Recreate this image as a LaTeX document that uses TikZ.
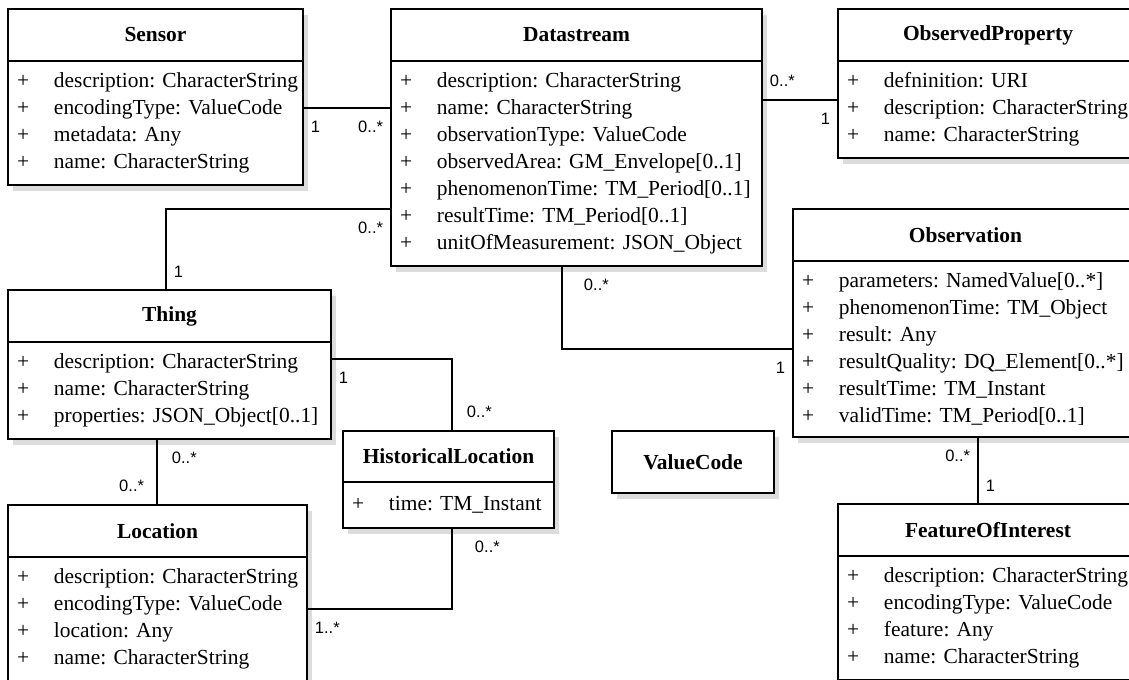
\documentclass[tikz,border=0pt]{standalone}
\usepackage{fontspec}
\setmainfont{Liberation Serif}
\setsansfont{Liberation Sans}
\usetikzlibrary{positioning, backgrounds}
\definecolor{shadowgrey}{HTML}{DCDCDC}

\newcommand{\classfont}{\fontsize{12.2}{15.36}\selectfont\frenchspacing}
\newcommand{\umlattr}[1]{\hspace*{0.18cm}\makebox[0.74cm][l]{+}#1}

\tikzset{
  classname/.style={rectangle, draw, fill=white, line width=1.1pt, outer sep=0pt, anchor=north west, minimum height=1.04cm, font=\classfont\bfseries},
  classattr/.style={rectangle, draw, fill=white, line width=1.1pt, outer sep=0pt, align=left, inner xsep=0pt, inner ysep=6.6pt, font=\classfont},
  assoc/.style={draw, line width=1.1pt},
  mult/.style={font=\sffamily\fontsize{9.4}{11}\selectfont, inner xsep=0.14cm, inner ysep=0.24cm},
  shadowbox/.style={fill=shadowgrey}
}

\begin{document}
\begin{tikzpicture}
\useasboundingbox (0,0) rectangle (22.58,-13.6);

% Sensor
\node[classname, minimum width=5.9cm] (sensor) at (0.16,-0.18) {Sensor};
\node[classattr, text width=5.9cm, below=0pt of sensor] (sensor-attr) {\umlattr{description: CharacterString}\\ \umlattr{encodingType: ValueCode}\\ \umlattr{metadata: Any}\\ \umlattr{name: CharacterString}};

% Datastream
\node[classname, minimum width=7.42cm] (datastream) at (7.82,-0.18) {Datastream};
\node[classattr, text width=7.42cm, below=0pt of datastream] (datastream-attr) {\umlattr{description: CharacterString}\\ \umlattr{name: CharacterString}\\ \umlattr{observationType: ValueCode}\\ \umlattr{observedArea: GM\_Envelope[0..1]}\\ \umlattr{phenomenonTime: TM\_Period[0..1]}\\ \umlattr{resultTime: TM\_Period[0..1]}\\ \umlattr{unitOfMeasurement: JSON\_Object}};

% ObservedProperty
\node[classname, minimum width=6.0cm] (observedproperty) at (16.76,-0.18) {ObservedProperty};
\node[classattr, text width=6.0cm, below=0pt of observedproperty] (observedproperty-attr) {\umlattr{defninition: URI}\\ \umlattr{description: CharacterString}\\ \umlattr{name: CharacterString}};

% Observation
\node[classname, minimum width=6.9cm] (observation) at (15.86,-4.18) {Observation};
\node[classattr, text width=6.9cm, below=0pt of observation] (observation-attr) {\umlattr{parameters: NamedValue[0..*]}\\ \umlattr{phenomenonTime: TM\_Object}\\ \umlattr{result: Any}\\ \umlattr{resultQuality: DQ\_Element[0..*]}\\ \umlattr{resultTime: TM\_Instant}\\ \umlattr{validTime: TM\_Period[0..1]}};

% Thing
\node[classname, minimum width=6.46cm] (thing) at (0.16,-5.8) {Thing};
\node[classattr, text width=6.46cm, below=0pt of thing] (thing-attr) {\umlattr{description: CharacterString}\\ \umlattr{name: CharacterString}\\ \umlattr{properties: JSON\_Object[0..1]}};

% HistoricalLocation
\node[classname, minimum width=4.22cm, minimum height=1.02cm] (historicallocation) at (6.86,-8.62) {HistoricalLocation};
\node[classattr, text width=4.22cm, minimum height=0.92cm, below=0pt of historicallocation] (historicallocation-attr) {\umlattr{time: TM\_Instant}};

% ValueCode
\node[classname, minimum width=3.24cm, minimum height=1.24cm] (valuecode) at (12.24,-8.62) {ValueCode};

% Location
\node[classname, minimum width=5.98cm] (location) at (0.16,-10.1) {Location};
\node[classattr, text width=5.98cm, below=0pt of location] (location-attr) {\umlattr{description: CharacterString}\\ \umlattr{encodingType: ValueCode}\\ \umlattr{location: Any}\\ \umlattr{name: CharacterString}};

% FeatureOfInterest
\node[classname, minimum width=6.0cm] (featureofinterest) at (16.76,-10.08) {FeatureOfInterest};
\node[classattr, text width=6.0cm, below=0pt of featureofinterest] (featureofinterest-attr) {\umlattr{description: CharacterString}\\ \umlattr{encodingType: ValueCode}\\ \umlattr{feature: Any}\\ \umlattr{name: CharacterString}};

% shadows behind the classes
\begin{scope}[on background layer]
\foreach \cls/\last in {sensor/sensor-attr, datastream/datastream-attr, observedproperty/observedproperty-attr, observation/observation-attr, thing/thing-attr, historicallocation/historicallocation-attr, valuecode/valuecode, location/location-attr, featureofinterest/featureofinterest-attr}
  \fill[shadowbox] ([shift={(0.1,-0.12)}]\cls.north west) rectangle ([shift={(0.1,-0.12)}]\last.south east);
\end{scope}

% ports of the associations
\coordinate (sensor-port) at ([yshift=-0.94cm]sensor.south east);
\coordinate (thing-port) at ([xshift=3.16cm]thing.north west);
\coordinate (datastream-thing-port) at ([yshift=-2.96cm]datastream.south west);
\coordinate (datastream-port) at ([yshift=-0.78cm]datastream.south east);
\coordinate (datastream-bottom-port) at ([xshift=3.42cm]datastream-attr.south west);
\coordinate (observation-port) at ([yshift=-1.76cm]observation.south west);
\coordinate (observation-bottom-port) at ([xshift=3.7cm]observation-attr.south west);
\coordinate (thing-bottom-port) at ([xshift=2.98cm]thing-attr.south west);
\coordinate (thing-side-port) at ([yshift=-0.34cm]thing.south east);
\coordinate (historicallocation-top-port) at ([xshift=0.07cm]historicallocation.north);
\coordinate (historicallocation-bottom-port) at ([xshift=0.07cm]historicallocation-attr.south);
\coordinate (location-port) at ([yshift=-1.04cm]location.south east);

% associations
\draw[assoc] (sensor-port) -- node[mult, pos=0, below right]{1} node[mult, pos=1, below left]{0..*} (sensor-port -| datastream.west);
\draw[assoc] (thing-port) |- node[mult, pos=0, above right]{1} node[mult, pos=1, below left]{0..*} (datastream-thing-port);
\draw[assoc] (datastream-port) -- node[mult, pos=0, above right]{0..*} node[mult, pos=1, below left]{1} (datastream-port -| observedproperty.west);
\draw[assoc] (datastream-bottom-port) |- node[mult, pos=0, below right, xshift=0.28cm]{0..*} node[mult, pos=1, below left]{1} (observation-port);
\draw[assoc] (observation-bottom-port) -- node[mult, pos=0, below left]{0..*} node[mult, pos=1, above right]{1} (observation-bottom-port |- featureofinterest.north);
\draw[assoc] (thing-bottom-port) -- node[mult, pos=0, below right, xshift=0.14cm]{0..*} node[mult, pos=1, above left, xshift=-0.1cm]{0..*} (thing-bottom-port |- location.north);
\draw[assoc] (thing-side-port) -| node[mult, pos=0, below right]{1} node[mult, pos=1, above right, xshift=0.14cm]{0..*} (historicallocation-top-port);
\draw[assoc] (historicallocation-bottom-port) |- node[mult, pos=0, below right, xshift=0.3cm]{0..*} node[mult, pos=1, below right]{1..*} (location-port);
\end{tikzpicture}
\end{document}
